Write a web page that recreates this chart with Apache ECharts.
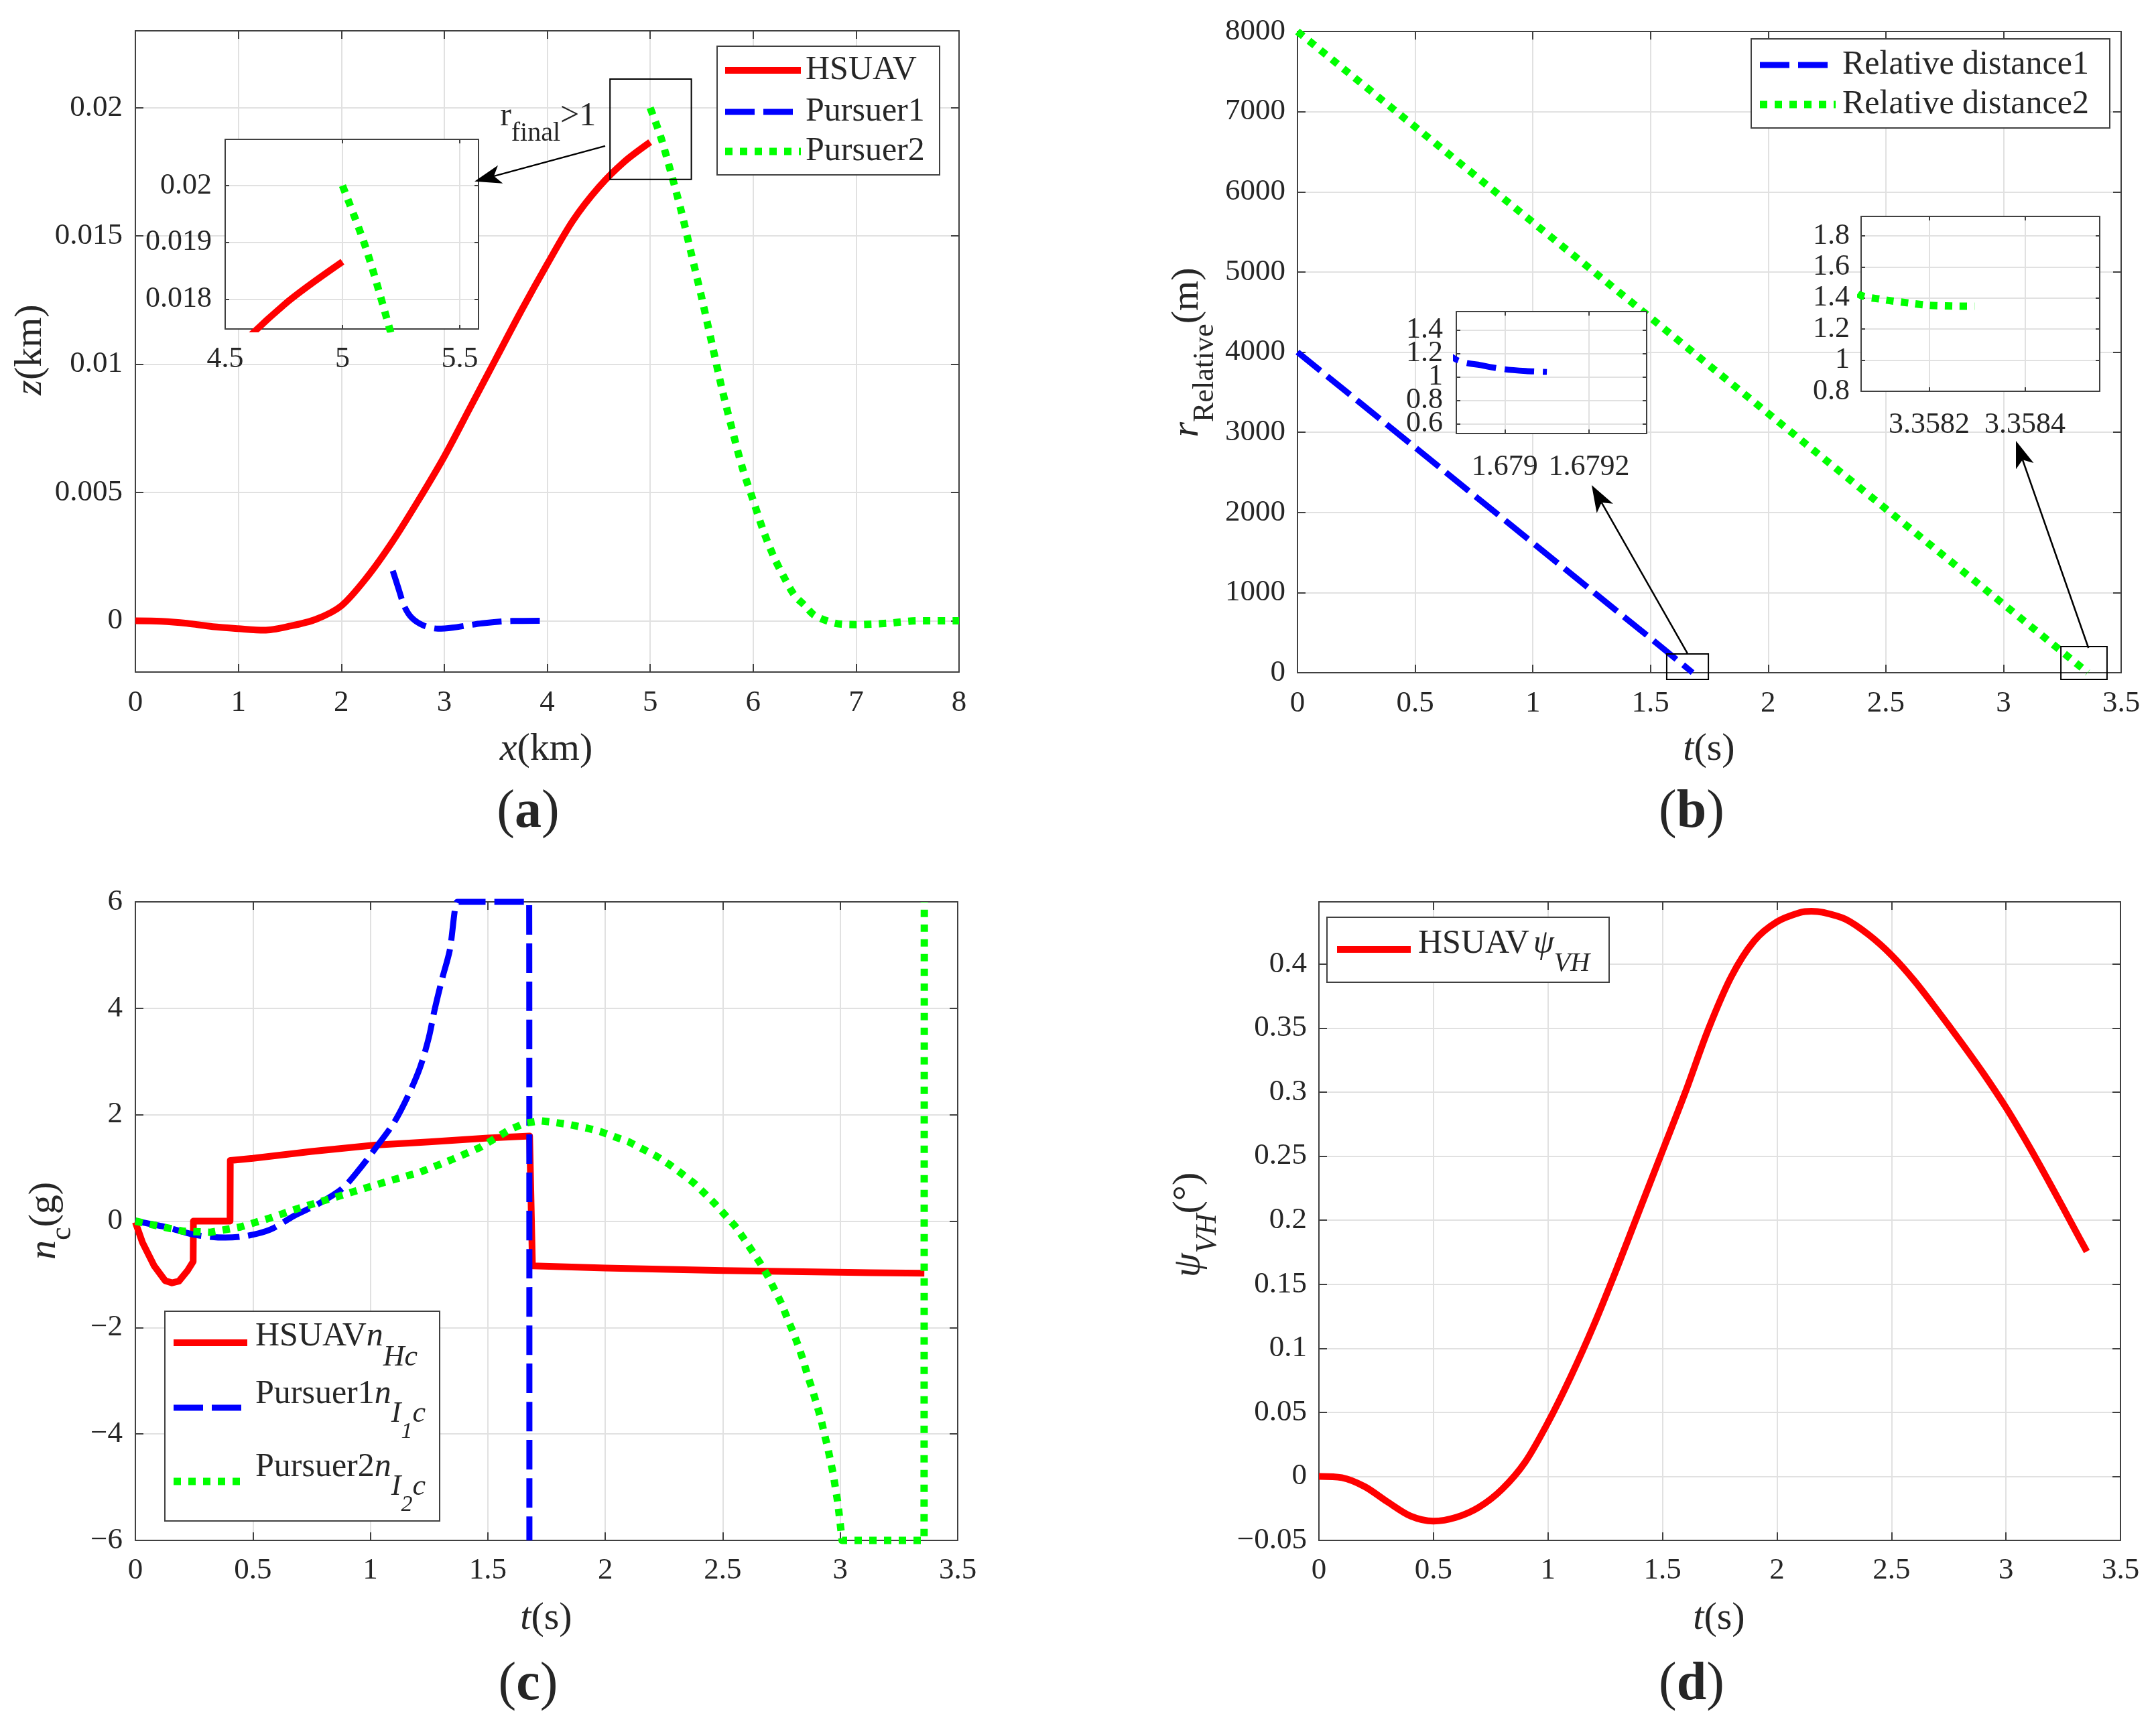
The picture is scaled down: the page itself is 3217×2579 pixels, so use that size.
<!DOCTYPE html>
<html>
<head>
<meta charset="utf-8">
<script src="https://cdn.jsdelivr.net/npm/echarts@6/dist/echarts.min.js"></script>
<style>
html, body { margin: 0; padding: 0; background: #fff; }
#main { width: 3217px; height: 2579px; }
</style>
</head>
<body>
<div id="main"></div>
<script>
// ---- data ----
// (a) trajectories, z(km) against x(km)
var aHsuavX = [0, 0.25, 0.5, 0.75, 1, 1.25, 1.5, 1.75, 2, 2.25, 2.5, 2.75, 3, 3.25, 3.5, 3.75, 4, 4.25, 4.5, 4.75, 5];
var aHsuavZ = [0, -0.00002, -0.0001, -0.00023, -0.00031, -0.00037, -0.00021, 0.00005, 0.00058, 0.0017, 0.0031, 0.0047, 0.0064, 0.0083, 0.0102, 0.0121, 0.0139, 0.0156, 0.0169, 0.0179, 0.01866];
var aP1X = [2.5, 2.556, 2.613, 2.684, 2.797, 2.938, 3.08, 3.369, 3.657, 4];
var aP1Z = [0.00195, 0.00125, 0.00056, 0.00012, -0.00018, -0.00031, -0.00027, -0.0001, -0.00001, 0];
var aP2X = [5, 5.1, 5.2, 5.3, 5.4, 5.5, 5.6, 5.7, 5.8, 5.9, 6, 6.1, 6.2, 6.3, 6.4, 6.5, 6.6, 6.8, 7, 7.3, 7.6, 8];
var aP2Z = [0.02, 0.0189, 0.0175, 0.016, 0.0143, 0.0126, 0.0108, 0.009, 0.0074, 0.0059, 0.0047, 0.0035, 0.0025, 0.0017, 0.001, 0.0006, 0.0002, -0.0001, -0.00015, -0.0001, 0, 0];

// (b) relative distance (m) against t(s)
var bT1 = [0, 0.5, 1, 1.5, 1.67888, 1.67895, 1.679, 1.67905, 1.6791];
var bR1 = [4000, 2810, 1620, 430, 1.157, 1.095, 1.065, 1.05, 1.042];
var bT2 = [0, 0.5, 1, 1.5, 2, 2.5, 3, 3.35805, 3.3581, 3.35816, 3.3582, 3.35825, 3.358295];
var bR2 = [8000, 6810, 5620, 4430, 3235, 2045, 855, 1.43, 1.392, 1.367, 1.353, 1.348, 1.347];

// (c) overload commands n_c(g) against t(s)
var cTH = [0, 0.03, 0.08, 0.127, 0.156, 0.185, 0.222, 0.246, 0.247, 0.403, 0.404, 0.5, 0.75, 1.02, 1.25, 1.5, 1.678, 1.69, 2.0, 2.5, 3.13, 3.358];
var cNH = [-0.02, -0.4, -0.84, -1.12, -1.16, -1.13, -0.93, -0.76, 0, 0, 1.14, 1.18, 1.31, 1.43, 1.49, 1.56, 1.6, -0.84, -0.88, -0.93, -0.97, -0.98];
var cTP1 = [0, 0.128, 0.256, 0.383, 0.472, 0.574, 0.676, 0.777, 0.88, 0.956, 1.032, 1.102, 1.16, 1.211, 1.249, 1.274, 1.306, 1.338, 1.37, 1.38, 1.666, 1.676, 1.677];
var cNP1 = [0, -0.11, -0.26, -0.31, -0.28, -0.16, 0.1, 0.32, 0.61, 0.99, 1.43, 1.86, 2.35, 2.88, 3.45, 3.98, 4.56, 5.09, 6, 6, 6, 6, -6];
var cTP2 = [0, 0.205, 0.319, 0.447, 0.574, 0.701, 0.829, 0.956, 1.083, 1.211, 1.338, 1.465, 1.593, 1.658, 1.725, 1.791, 1.853, 1.92, 1.981, 2.043, 2.1, 2.157, 2.214, 2.271, 2.323, 2.376, 2.423, 2.466, 2.509, 2.552, 2.59, 2.628, 2.661, 2.694, 2.723, 2.751, 2.775, 2.799, 2.823, 2.842, 2.861, 2.88, 2.899, 2.918, 2.932, 2.946, 2.97, 2.99, 3.008, 3.357, 3.358];
var cNP2 = [0, -0.19, -0.21, -0.11, 0.06, 0.25, 0.42, 0.59, 0.76, 0.92, 1.14, 1.38, 1.72, 1.84, 1.885, 1.85, 1.81, 1.75, 1.68, 1.58, 1.49, 1.36, 1.23, 1.07, 0.9, 0.72, 0.52, 0.33, 0.12, -0.09, -0.33, -0.58, -0.8, -1.05, -1.31, -1.56, -1.83, -2.08, -2.36, -2.61, -2.9, -3.15, -3.43, -3.72, -3.99, -4.24, -4.75, -5.3, -6, -6, 6];

// (d) psi_VH (deg) against t(s)
var dT = [0, 0.1, 0.2, 0.3, 0.4, 0.5, 0.6, 0.7, 0.8, 0.9, 1, 1.1, 1.2, 1.3, 1.4, 1.5, 1.6, 1.7, 1.8, 1.9, 2, 2.1, 2.15, 2.2, 2.3, 2.4, 2.5, 2.6, 2.7, 2.8, 2.9, 3, 3.1, 3.2, 3.3, 3.353];
var dPsi = [0, -0.001, -0.008, -0.02, -0.031, -0.035, -0.032, -0.024, -0.01, 0.011, 0.042, 0.078, 0.118, 0.162, 0.208, 0.254, 0.3, 0.349, 0.39, 0.418, 0.433, 0.4402, 0.4413, 0.4404, 0.435, 0.423, 0.407, 0.387, 0.364, 0.34, 0.315, 0.288, 0.258, 0.226, 0.193, 0.1755];

// tick values
var aXTicks = [0, 1, 2, 3, 4, 5, 6, 7, 8];
var aZTicks = [0, 0.005, 0.01, 0.015, 0.02];
var aInXTicks = [4.5, 5, 5.5];
var aInZTicks = [0.018, 0.019, 0.02];
var tTicks = [0, 0.5, 1, 1.5, 2, 2.5, 3, 3.5];
var bRTicks = [0, 1000, 2000, 3000, 4000, 5000, 6000, 7000, 8000];
var bIn1TTicks = [1.679, 1.6792];
var bIn1RTicks = [0.6, 0.8, 1, 1.2, 1.4];
var bIn2TTicks = [3.3582, 3.3584];
var bIn2RTicks = [0.8, 1, 1.2, 1.4, 1.6, 1.8];
var cNTicks = [-6, -4, -2, 0, 2, 4, 6];
var dPsiTicks = [-0.05, 0, 0.05, 0.1, 0.15, 0.2, 0.25, 0.3, 0.35, 0.4];

// ---- styles ----
var FONT = 'Liberation Serif';
var TXT = '#262626', AX = '#404040', GRIDC = '#e1e1e1';
var RED = '#ff0000', BLUE = '#0000ff', GREEN = '#00ff00';
var DASH = [44, 13], DOT = [11, 11];

function pairs(xs, ys) {
  return xs.map(function (x, i) { return [x, ys[i]]; });
}
function fmtNum(v) {
  return String(+(+v).toPrecision(6)).replace('-', '\u2212');
}

var grids = [], xAxes = [], yAxes = [];

function axis(gi, pos, r, o, main) {
  return {
    type: 'value', gridIndex: gi, position: pos, min: r.min, max: r.max, z: o.z + 1,
    axisLine: { show: true, onZero: false, lineStyle: { color: AX, width: 2 } },
    axisTick: { show: true, inside: true, length: o.tick, customValues: r.ticks, lineStyle: { color: AX, width: 2 } },
    splitLine: { show: main, lineStyle: { color: GRIDC, width: 2 } },
    axisLabel: {
      show: main && !r.noLabel, customValues: r.ticks, formatter: fmtNum, fontFamily: FONT,
      fontSize: o.font, color: TXT, margin: r.margin, hideOverlap: false,
      showMinLabel: true, showMaxLabel: true
    }
  };
}

function addPanel(rect, xr, yr, o) {
  var gi = grids.length;
  grids.push({
    show: !!o.inset, backgroundColor: '#fff', borderWidth: 0, z: o.z,
    left: rect[0], top: rect[1], width: rect[2], height: rect[3]
  });
  xAxes.push(axis(gi, 'bottom', xr, o, true), axis(gi, 'top', xr, o, false));
  yAxes.push(axis(gi, 'left', yr, o, true), axis(gi, 'right', yr, o, false));
  return gi;
}

var mainOpt = { z: 0, tick: 12, font: 45 };
var inOpt = { z: 5, tick: 6, font: 44, inset: true };

var gA = addPanel([202, 46, 1229, 957], { min: 0, max: 8, ticks: aXTicks, margin: 24 }, { min: -0.002, max: 0.023, ticks: aZTicks, margin: 19 }, mainOpt);
var gB = addPanel([1936, 47, 1229, 957], { min: 0, max: 3.5, ticks: tTicks, margin: 24 }, { min: 0, max: 8000, ticks: bRTicks, margin: 18 }, mainOpt);
var gC = addPanel([202, 1346, 1227, 953], { min: 0, max: 3.5, ticks: tTicks, margin: 23 }, { min: -6, max: 6, ticks: cNTicks, margin: 19 }, mainOpt);
var gD = addPanel([1968, 1346, 1196, 953], { min: 0, max: 3.5, ticks: tTicks, margin: 23 }, { min: -0.05, max: 0.4486, ticks: dPsiTicks, margin: 18 }, mainOpt);
var gAin = addPanel([336, 208, 378, 283], { min: 4.5, max: 5.58, ticks: aInXTicks, margin: 23 }, { min: 0.017478, max: 0.020814, ticks: aInZTicks, margin: 20 }, inOpt);
// the crowded y labels of this inset are written below as texts, so none get dropped
var gBin1 = addPanel([2173, 465, 284, 182], { min: 1.678885, max: 1.679337, ticks: bIn1TTicks, margin: 28 }, { min: 0.518, max: 1.556, ticks: bIn1RTicks, margin: 20, noLabel: true }, inOpt);
var gBin2 = addPanel([2777, 323, 356, 261], { min: 3.358058, max: 3.358556, ticks: bIn2TTicks, margin: 28 }, { min: 0.8, max: 1.925, ticks: bIn2RTicks, margin: 17 }, inOpt);

function line(gi, xs, ys, color, width, dash, o) {
  o = o || {};
  return {
    type: 'line', xAxisIndex: 2 * gi, yAxisIndex: 2 * gi, data: pairs(xs, ys),
    symbol: 'none', showSymbol: false, smooth: o.smooth || false, clip: !!o.clip,
    z: o.z || 2, silent: true, animation: false,
    lineStyle: { color: color, width: width, type: dash || 'solid', cap: 'butt', join: 'round' }
  };
}

var series = [
  line(gA, aHsuavX, aHsuavZ, RED, 10, null, { smooth: 0.3 }),
  line(gA, aP1X, aP1Z, BLUE, 9, DASH, { smooth: 0.3 }),
  line(gA, aP2X, aP2Z, GREEN, 11, DOT, { smooth: 0.3 }),
  line(gAin, aHsuavX, aHsuavZ, RED, 10, null, { smooth: 0.3, clip: true, z: 7 }),
  line(gAin, aP2X, aP2Z, GREEN, 11, DOT, { smooth: 0.3, clip: true, z: 7 }),

  line(gB, bT1, bR1, BLUE, 9, DASH),
  line(gB, bT2, bR2, GREEN, 11, DOT),
  line(gBin1, bT1, bR1, BLUE, 9, DASH, { clip: true, z: 7, smooth: 0.3 }),
  line(gBin2, bT2, bR2, GREEN, 11, DOT, { clip: true, z: 7, smooth: 0.3 }),

  line(gC, cTH, cNH, RED, 10),
  line(gC, cTP1, cNP1, BLUE, 9, DASH, { smooth: 0.3 }),
  line(gC, cTP2, cNP2, GREEN, 11, DOT),

  line(gD, dT, dPsi, RED, 10, null, { smooth: 0.3 })
];

var chart = echarts.init(document.getElementById('main'), null, { renderer: 'canvas' });
chart.setOption({
  animation: false,
  backgroundColor: '#fff',
  textStyle: { fontFamily: FONT },
  grid: grids,
  xAxis: xAxes,
  yAxis: yAxes,
  series: series
});

// ---- texts, legends and annotations ----
var ctx = document.createElement('canvas').getContext('2d');
function fontOf(p) {
  return (p.it ? 'italic ' : '') + (p.b ? 'bold ' : '') + p.s + 'px "' + FONT + '", serif';
}
function pieces(cx, cy, list, o) {
  o = o || {};
  var x = 0, kids = [];
  list.forEach(function (p) {
    var f = fontOf(p);
    x += p.pre || 0;
    kids.push({
      type: 'text', x: x, y: p.dy || 0, z: 102,
      style: { text: p.t, font: f, fill: TXT, align: 'left', verticalAlign: 'middle', textAlign: 'left', textVerticalAlign: 'middle' }
    });
    ctx.font = f;
    x += ctx.measureText(p.t).width;
  });
  var shift = o.left ? 0 : (o.right ? x : x / 2);
  kids.forEach(function (k) { k.x -= shift; });
  return { type: 'group', x: cx, y: cy, rotation: o.rot ? Math.PI / 2 : 0, children: kids, z: 102 };
}
function box(x, y, w, h) {
  return { type: 'rect', z: 100, shape: { x: x, y: y, width: w, height: h }, style: { fill: '#fff', stroke: AX, lineWidth: 2 } };
}
function sample(x1, x2, y, color, width, dash) {
  return { type: 'line', z: 101, shape: { x1: x1, y1: y, x2: x2, y2: y }, style: { stroke: color, lineWidth: width, lineDash: dash || null, lineCap: 'butt' } };
}
function px(gi, p) { return chart.convertToPixel({ gridIndex: gi }, p); }
function dataBox(gi, a, b) {
  var p = px(gi, a), q = px(gi, b);
  return {
    type: 'rect', z: 101,
    shape: { x: Math.min(p[0], q[0]), y: Math.min(p[1], q[1]), width: Math.abs(q[0] - p[0]), height: Math.abs(q[1] - p[1]) },
    style: { fill: 'none', stroke: '#000', lineWidth: 2 }
  };
}
function arrow(gi, a, b) {
  var p0 = px(gi, a), p1 = px(gi, b);
  var dx = p1[0] - p0[0], dy = p1[1] - p0[1], len = Math.sqrt(dx * dx + dy * dy);
  var ux = dx / len, uy = dy / len, nx = -uy, ny = ux, L = 40, W = 14;
  var bx = p1[0] - ux * L, by = p1[1] - uy * L;
  var mx = p1[0] - ux * L * 0.75, my = p1[1] - uy * L * 0.75;
  return [
    { type: 'line', z: 101, shape: { x1: p0[0], y1: p0[1], x2: mx, y2: my }, style: { stroke: '#000', lineWidth: 2.5 } },
    { type: 'polygon', z: 101, shape: { points: [[p1[0], p1[1]], [bx + nx * W, by + ny * W], [mx, my], [bx - nx * W, by - ny * W]] }, style: { fill: '#000' } }
  ];
}

var T = 58, S = 44, L = 50;
var g = [];
// axis titles
g.push(pieces(815, 1119, [{ t: 'x', it: 1, s: T }, { t: '(km)', s: T }]));
g.push(pieces(46, 522, [{ t: 'z', it: 1, s: T }, { t: '(km)', s: T }], { rot: 1 }));
g.push(pieces(2550, 1119, [{ t: 't', it: 1, s: T }, { t: '(s)', s: T }]));
g.push(pieces(1772, 526, [{ t: 'r', it: 1, s: T }, { t: 'Relative', s: S, dy: 26 }, { t: '(m)', s: T }], { rot: 1 }));
g.push(pieces(815, 2416, [{ t: 't', it: 1, s: T }, { t: '(s)', s: T }]));
g.push(pieces(67, 1822, [{ t: 'n', it: 1, s: T }, { t: 'c', s: S, dy: 26 }, { t: '(g)', s: T }], { rot: 1 }));
g.push(pieces(2565, 2416, [{ t: 't', it: 1, s: T }, { t: '(s)', s: T }]));
g.push(pieces(1774, 1828, [{ t: '\u03c8', it: 1, s: T }, { t: 'VH', it: 1, s: S, dy: 28 }, { t: '(\u00b0)', s: T }], { rot: 1 }));
// panel captions
[['a', 788, 1213], ['b', 2524, 1213], ['c', 788, 2515], ['d', 2524, 2515]].forEach(function (c) {
  g.push(pieces(c[1], c[2], [{ t: '(', s: 80 }, { t: c[0], b: 1, s: 80 }, { t: ')', s: 80 }]));
});

// inset (b) left: y tick labels placed through the inset's own scale
bIn1RTicks.forEach(function (v) {
  var p = px(gBin1, [1.678885, v]);
  g.push(pieces(p[0] - 20, p[1], [{ t: fmtNum(v), s: 44 }], { right: 1 }));
});

// legend (a)
g.push(box(1070, 69, 332, 192));
g.push(sample(1082, 1195, 105, RED, 10));
g.push(sample(1082, 1195, 167, BLUE, 9, DASH));
g.push(sample(1082, 1195, 226, GREEN, 11, DOT));
g.push(pieces(1202, 105, [{ t: 'HSUAV', s: L }], { left: 1 }));
g.push(pieces(1202, 167, [{ t: 'Pursuer1', s: L }], { left: 1 }));
g.push(pieces(1202, 226, [{ t: 'Pursuer2', s: L }], { left: 1 }));

// legend (b)
g.push(box(2613, 58, 535, 133));
g.push(sample(2626, 2739, 97, BLUE, 9, DASH));
g.push(sample(2626, 2739, 156, GREEN, 11, DOT));
g.push(pieces(2749, 97, [{ t: 'Relative distance1', s: L }], { left: 1 }));
g.push(pieces(2749, 156, [{ t: 'Relative distance2', s: L }], { left: 1 }));

// legend (c)
g.push(box(246, 1957, 410, 313));
g.push(sample(259, 369, 2004, RED, 10));
g.push(sample(259, 369, 2101, BLUE, 9, DASH));
g.push(sample(259, 369, 2211, GREEN, 11, DOT));
g.push(pieces(381, 1995, [{ t: 'HSUAV', s: L }, { t: 'n', it: 1, s: L }, { t: 'Hc', it: 1, s: S, dy: 31 }], { left: 1 }));
g.push(pieces(381, 2081, [{ t: 'Pursuer1', s: L }, { t: 'n', it: 1, s: L }, { t: 'I', it: 1, s: S, dy: 29 }, { t: '1', it: 1, s: 34, dy: 56 }, { t: 'c', it: 1, s: S, dy: 29 }], { left: 1 }));
g.push(pieces(381, 2190, [{ t: 'Pursuer2', s: L }, { t: 'n', it: 1, s: L }, { t: 'I', it: 1, s: S, dy: 29 }, { t: '2', it: 1, s: 34, dy: 56 }, { t: 'c', it: 1, s: S, dy: 29 }], { left: 1 }));

// legend (d)
g.push(box(1980, 1369, 421, 97));
g.push(sample(1995, 2105, 1417, RED, 10));
g.push(pieces(2116, 1409, [{ t: 'HSUAV', s: L }, { t: '\u03c8', it: 1, s: L, pre: 6 }, { t: 'VH', it: 1, s: 40, dy: 29 }], { left: 1 }));

// annotations (a)
g.push(dataBox(gA, [4.61, 0.01721], [5.40, 0.02112]));
g = g.concat(arrow(gA, [4.563, 0.01851], [3.294, 0.01713]));
var rp = px(gA, [3.542, 0.01966]);
g.push(pieces(rp[0], rp[1], [{ t: 'r', s: L }, { t: 'final', s: 40, dy: 26 }, { t: '>1', s: L }], { left: 1 }));

// annotations (b)
g.push(dataBox(gB, [1.569, -84], [1.746, 234]));
g.push(dataBox(gB, [3.244, -84], [3.440, 326]));
g = g.concat(arrow(gB, [1.657, 242], [1.250, 2341]));
g = g.concat(arrow(gB, [3.361, 309], [3.053, 2893]));

chart.setOption({ graphic: { elements: g } });
</script>
</body>
</html>
